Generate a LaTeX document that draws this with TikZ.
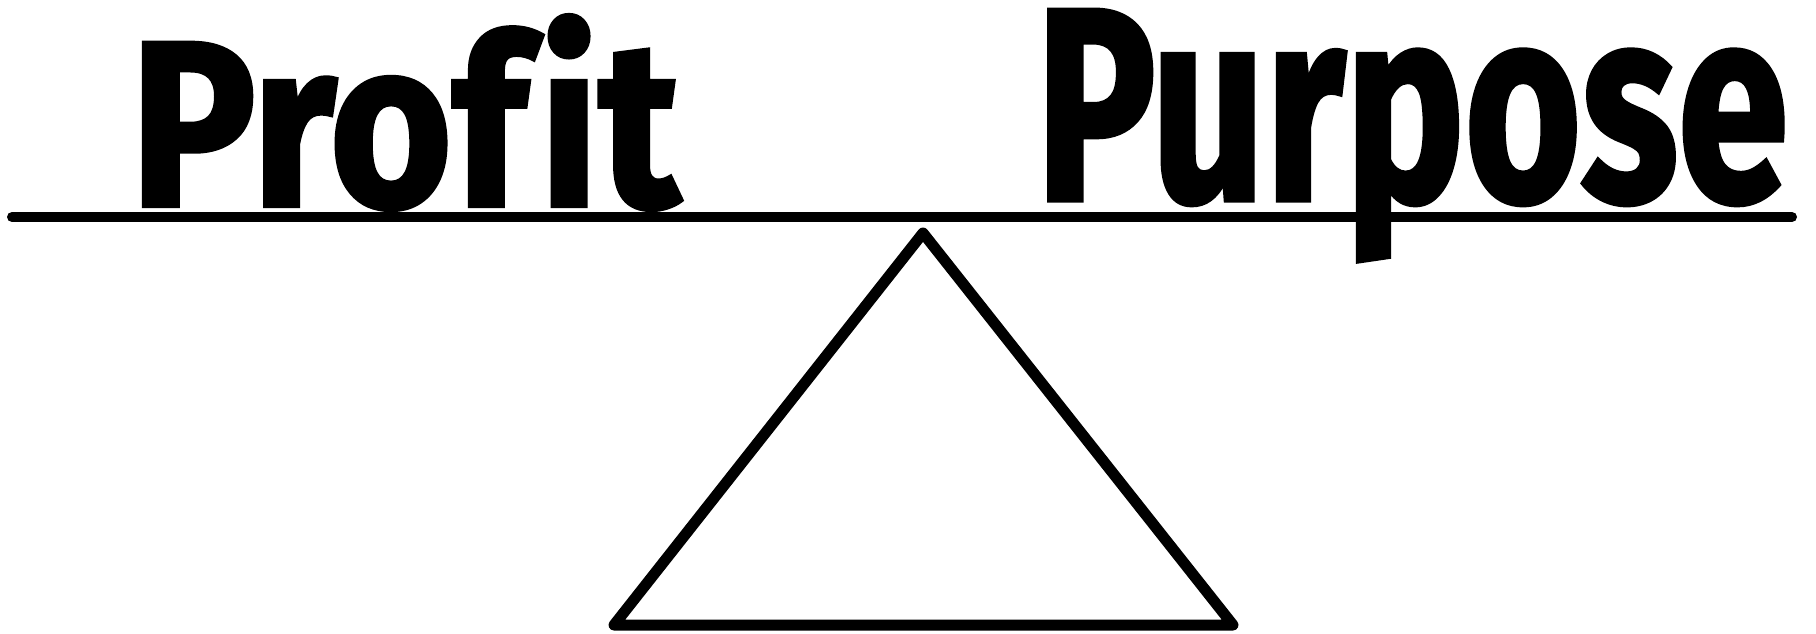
\documentclass[tikz,border=0pt]{standalone}
\usepackage{fontspec}
\setmainfont{Fira Sans}
\newfontfamily\heavyfont{Fira Sans}[Ligatures=NoCommon,BoldFeatures={FakeBold=1.8}]
\usepackage{graphicx}
\begin{document}
\begin{tikzpicture}[x=1pt,y=-1pt,
  word/.style={inner sep=0pt,outer sep=0pt,font=\heavyfont\bfseries},
  beam/.style={line width=10pt,line cap=round},
  fulcrum/.style={line width=11pt,line join=round}]
\useasboundingbox (0,0) rectangle (1816,633);
\fill[white] (0,0) rectangle (1816,633);
% words
\node[word,anchor=north west] (profit) at (130,15) {\resizebox{550pt}{191pt}{Prof\kern0.06em it}};
\node[word,anchor=north west] (purpose) at (1036,10) {\resizebox{752pt}{190pt}{Purpose}};
% beam
\coordinate (bl) at (12,217);
\coordinate (br) at (1792,217);
\draw[beam] (bl) -- (br);
% fulcrum
\coordinate (apex) at (923,233);
\coordinate (left) at (614,625);
\coordinate (right) at (1233,625);
\draw[fulcrum] (apex) -- (right) -- (left) -- cycle;
\end{tikzpicture}
\end{document}
